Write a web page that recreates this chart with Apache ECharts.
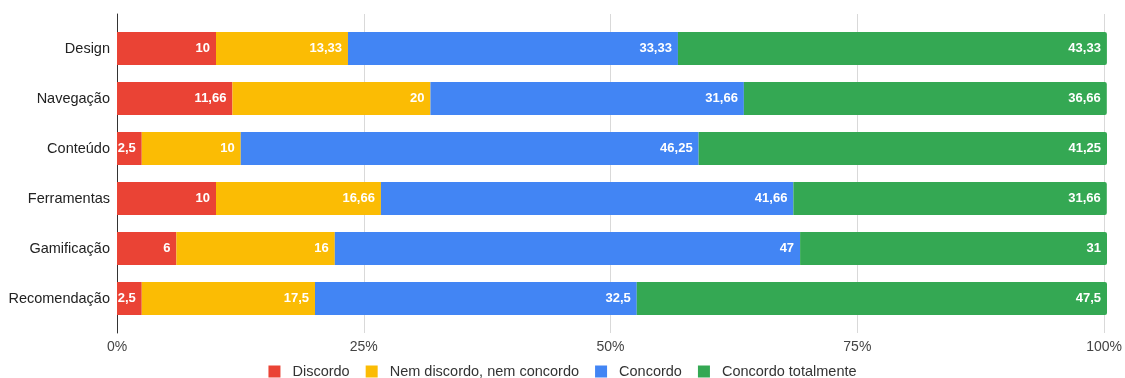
<!DOCTYPE html>
<html><head><meta charset="utf-8">
<script src="https://cdn.jsdelivr.net/npm/echarts@6/dist/echarts.min.js"></script>
<style>html,body{margin:0;padding:0;background:#fff}#c{width:1125px;height:378px}</style>
</head><body><div id="c"></div>
<script>
const categories = ['Design','Navegação','Conteúdo','Ferramentas','Gamificação','Recomendação'];
const discordo = [10, 11.66, 2.5, 10, 6, 2.5];
const neutro = [13.33, 20, 10, 16.66, 16, 17.5];
const concordo = [33.33, 31.66, 46.25, 41.66, 47, 32.5];
const concordoTotal = [43.33, 36.66, 41.25, 31.66, 31, 47.5];
const seriesNames = ['Discordo','Nem discordo, nem concordo','Concordo','Concordo totalmente'];
const xTicks = [0, 25, 50, 75, 100];
const colors = ['#ea4335','#fbbc04','#4285f4','#34a853'];

const chart = echarts.init(document.getElementById('c'));
const fontFam = '"Liberation Sans", Arial, sans-serif';
const lbl = {show:true, position:'insideRight', color:'#fff', fontWeight:'bold', fontSize:13, fontFamily:fontFam, distance:6,
  formatter: p => String(p.value).replace('.', ',')};
const datas = [discordo, neutro, concordo, concordoTotal];
const series = datas.map((d,i) => ({
  name: seriesNames[i], type:'bar', stack:'s', data:d, barWidth:33,
  xAxisIndex:0, yAxisIndex:0,
  itemStyle:{color:colors[i], borderRadius: i===3 ? [0,2,2,0] : 0},
  label: lbl
}));
chart.setOption({
  animation:false,
  color: colors,
  grid:[
    {left:117, width:990, top:23.5, height:300},
    {left:117, width:990, top:14, height:319}
  ],
  xAxis:[
    {gridIndex:0, type:'value', min:0, max:100, show:false},
    {gridIndex:1, type:'value', min:0, max:100, interval:25,
     axisLine:{show:false}, axisTick:{show:false},
     splitLine:{show:true, lineStyle:{color:'#d9d9d9', width:1}},
     axisLabel:{formatter: v => xTicks.includes(v) ? v + '%' : '', color:'#444', fontSize:14, fontFamily:fontFam, margin:7}}
  ],
  yAxis:[
    {gridIndex:0, type:'category', data:categories, inverse:true,
     axisLine:{show:false}, axisTick:{show:false},
     axisLabel:{color:'#222', fontSize:14.5, fontFamily:fontFam, margin:7}},
    {gridIndex:1, type:'value', min:0, max:1,
     axisLine:{show:true, lineStyle:{color:'#333', width:1}}, axisTick:{show:false},
     axisLabel:{show:false}, splitLine:{show:false}}
  ],
  legend:{
    bottom:-6, left:'center', itemWidth:12, itemHeight:12, itemGap:16, icon:'rect',
    textStyle:{color:'#333', fontSize:14.5, fontFamily:fontFam, padding:[0,0,0,7]},
    data: seriesNames
  },
  series: series
});
</script></body></html>
